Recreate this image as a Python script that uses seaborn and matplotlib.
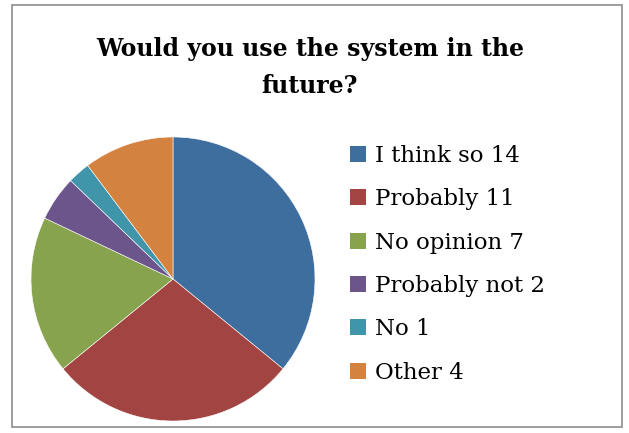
import matplotlib
matplotlib.use('Agg')
import seaborn as sns
import matplotlib.pyplot as plt
from matplotlib.patches import Rectangle, Patch

# 数据
answers = ['I think so', 'Probably', 'No opinion', 'Probably not', 'No', 'Other']
counts = [14, 11, 7, 2, 1, 4]
colors = ['#3D6E9E', '#A24542', '#87A34E', '#6C558B', '#4095AA', '#D4823F']

sns.set_theme(style='white')
plt.rcParams['font.family'] = ['DejaVu Serif']
plt.rcParams['text.color'] = 'black'

W, H = 629, 433
fig = plt.figure(figsize=(W / 100, H / 100), dpi=100)

# 外框
fig.patches.append(Rectangle((12 / W, 6 / H), 610 / W, 422 / H, transform=fig.transFigure,
                             fill=False, edgecolor='#8c8c8c', linewidth=1.2))

# 饼图
cx, cy, r = 173, 279, 142
ax = fig.add_axes([(cx - r) / W, (H - cy - r) / H, 2 * r / W, 2 * r / H])
ax.pie(counts, colors=colors, startangle=90, counterclock=False, radius=1,
       wedgeprops={'edgecolor': 'white', 'linewidth': 0.4})
ax.set_xlim(-1, 1)
ax.set_ylim(-1, 1)
ax.set_aspect('equal')
ax.axis('off')

# 标题
fig.text(310 / W, 1 - 67.5 / H, 'Would you use the system in the\nfuture?', ha='center', va='center',
         fontsize=17, fontweight='bold', linespacing=1.65, color='black')

# 图例
handles = [Patch(facecolor=c, edgecolor='none') for c in colors]
labels = [f'{a} {n}' for a, n in zip(answers, counts)]
leg = fig.legend(handles, labels, loc='upper left', bbox_to_anchor=(341 / W, 1 - 136 / H),
                 frameon=False, fontsize=16.5, handlelength=0.7, handleheight=0.7,
                 handletextpad=0.4, labelspacing=0.93, borderaxespad=0)
for t in leg.get_texts():
    t.set_color('black')

fig.savefig('out.png', dpi=100)
